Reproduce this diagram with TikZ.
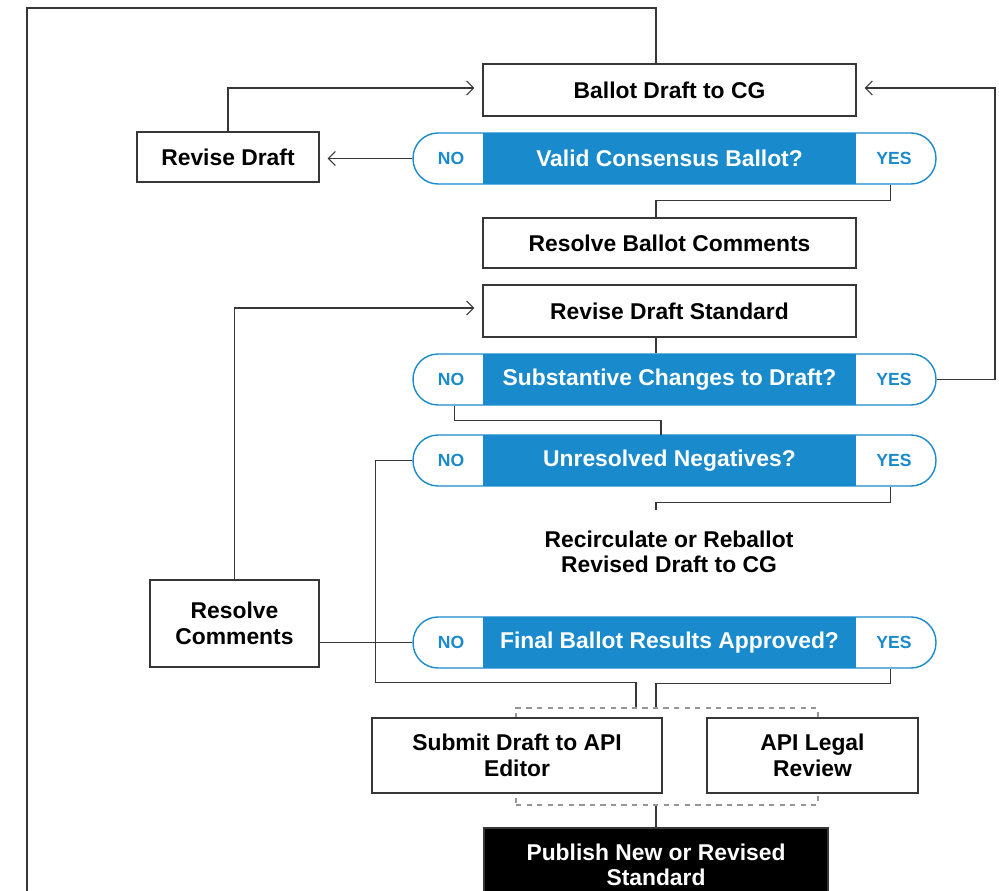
\documentclass[tikz,border=0pt]{standalone}
\usepackage{fontspec}
\setmainfont{Liberation Sans}
\usetikzlibrary{arrows.meta, positioning, calc}
\definecolor{apiblue}{RGB}{25, 138, 204}
\definecolor{linegray}{RGB}{55, 55, 55}
\definecolor{dashgray}{RGB}{150, 150, 150}

\begin{document}
\begin{tikzpicture}[x=0.02cm, y=-0.02cm,
  procbox/.style={draw=linegray, line width=0.8pt, fill=white, align=center, inner sep=0pt,
    font=\fontsize{13}{14.5}\selectfont\bfseries},
  decframe/.style={draw=apiblue, line width=0.8pt, fill=white, rounded corners=0.5cm,
    minimum width=10.46cm, minimum height=1.02cm, inner sep=0pt},
  deccore/.style={fill=apiblue, text=white, minimum width=7.46cm, minimum height=1.02cm,
    inner sep=0pt, font=\fontsize{13}{14.5}\selectfont\bfseries},
  declabel/.style={text=apiblue, font=\fontsize{10}{12}\selectfont\bfseries},
  flow/.style={draw=linegray, line width=0.6pt},
  flowarrow/.style={flow, shorten >=0.16cm, -{Straight Barb[length=4pt, width=8pt]}}
]
  \useasboundingbox (0,0) rectangle (999,891);
  \coordinate (spine) at (656,0);

  % Boxes down the middle
  \node[procbox, minimum width=7.46cm, minimum height=1.04cm] (ballot) at (669.5,90) {Ballot Draft to CG};
  \node[procbox, minimum width=7.46cm, minimum height=1.0cm] (resolveballot) at (669.5,243) {Resolve Ballot Comments};
  \node[procbox, minimum width=7.46cm, minimum height=1.04cm] (revisestd) at (669.5,311) {Revise Draft Standard};
  \node[font=\fontsize{13}{14.5}\selectfont\bfseries, align=center] (recirc) at (669,552) {Recirculate or Reballot\\Revised Draft to CG};

  % Side boxes
  \node[procbox, minimum width=3.64cm, minimum height=1.0cm] (revise) at (228,157) {Revise Draft};
  \node[procbox, minimum width=3.38cm, minimum height=1.74cm] (resolvecm) at (234.5,623.5) {Resolve\\Comments};

  % Decisions
  \node[decframe] (valid) at (674.5,158.5) {};
  \node[deccore] (validq) at (669.5,158.5) {Valid Consensus Ballot?};
  \node[declabel] (validno) at (451,158.5) {NO};
  \node[declabel] (validyes) at (894,158.5) {YES};

  \node[decframe] (subst) at (674.5,379.5) {};
  \node[deccore] (substq) at (669.5,379.5) {Substantive Changes to Draft?};
  \node[declabel] (substno) at (451,379.5) {NO};
  \node[declabel] (substyes) at (894,379.5) {YES};

  \node[decframe] (unres) at (674.5,460.5) {};
  \node[deccore] (unresq) at (669.5,460.5) {Unresolved Negatives?};
  \node[declabel] (unresno) at (451,460.5) {NO};
  \node[declabel] (unresyes) at (894,460.5) {YES};

  \node[decframe] (final) at (674.5,642.5) {};
  \node[deccore] (finalq) at (669.5,642.5) {Final Ballot Results Approved?};
  \node[declabel] (finalno) at (451,642.5) {NO};
  \node[declabel] (finalyes) at (894,642.5) {YES};

  % Parallel review
  \node[draw=dashgray, dashed, line width=0.7pt, minimum width=6.04cm, minimum height=1.94cm] (group) at (667,756.5) {};
  \node[procbox, minimum width=5.8cm, minimum height=1.5cm] (submit) at (517,755.5) {Submit Draft to API\\Editor};
  \node[procbox, minimum width=4.22cm, minimum height=1.5cm] (legal) at (812.5,755.5) {API Legal\\Review};
  \node[procbox, fill=black, text=white, minimum width=6.88cm, minimum height=1.48cm] (publish) at (656,865) {Publish New or Revised\\Standard};

  % Connectors
  \coordinate (loopfoot) at (27,891);
  \draw[flow] (loopfoot) |- (656,8) -- (ballot.north -| spine);
  \draw[flowarrow] (revise.north) |- ([yshift=0.04cm]ballot.west);
  \draw[flowarrow] (valid.west) -- (revise.east |- valid.west);
  \draw[flow] ($(valid.south east)+(-46,0)$) -- ++(0,16) -| (resolveballot.north -| spine);
  \draw[flow] (revisestd.south -| spine) -- (subst.north -| spine);
  \draw[flowarrow] (subst.east) -- (995,379.5) |- ([yshift=0.04cm]ballot.east);
  \draw[flow] ($(subst.south west)+(42,0)$) -- ++(0,15) -| ($(unresq.north)+(-8.5,0)$);
  \draw[flowarrow] (resolvecm.north) |- ([yshift=0.06cm]revisestd.west);
  \draw[flow] (unres.west) -- ++(-37,0) |- ($(group.north)+(-31,-25)$) -- ($(group.north)+(-31,0)$);
  \coordinate (recircin) at (656,510);
  \draw[flow] ($(unres.south east)+(-46,0)$) -- ++(0,16) -| (recircin);
  \draw[flow] (final.west) -- (final.west -| resolvecm.east);
  \draw[flow] ($(final.south east)+(-46,0)$) -- ++(0,15) -| (group.north -| spine);
  \draw[flow] (group.south -| spine) -- (publish.north -| spine);
\end{tikzpicture}
\end{document}
